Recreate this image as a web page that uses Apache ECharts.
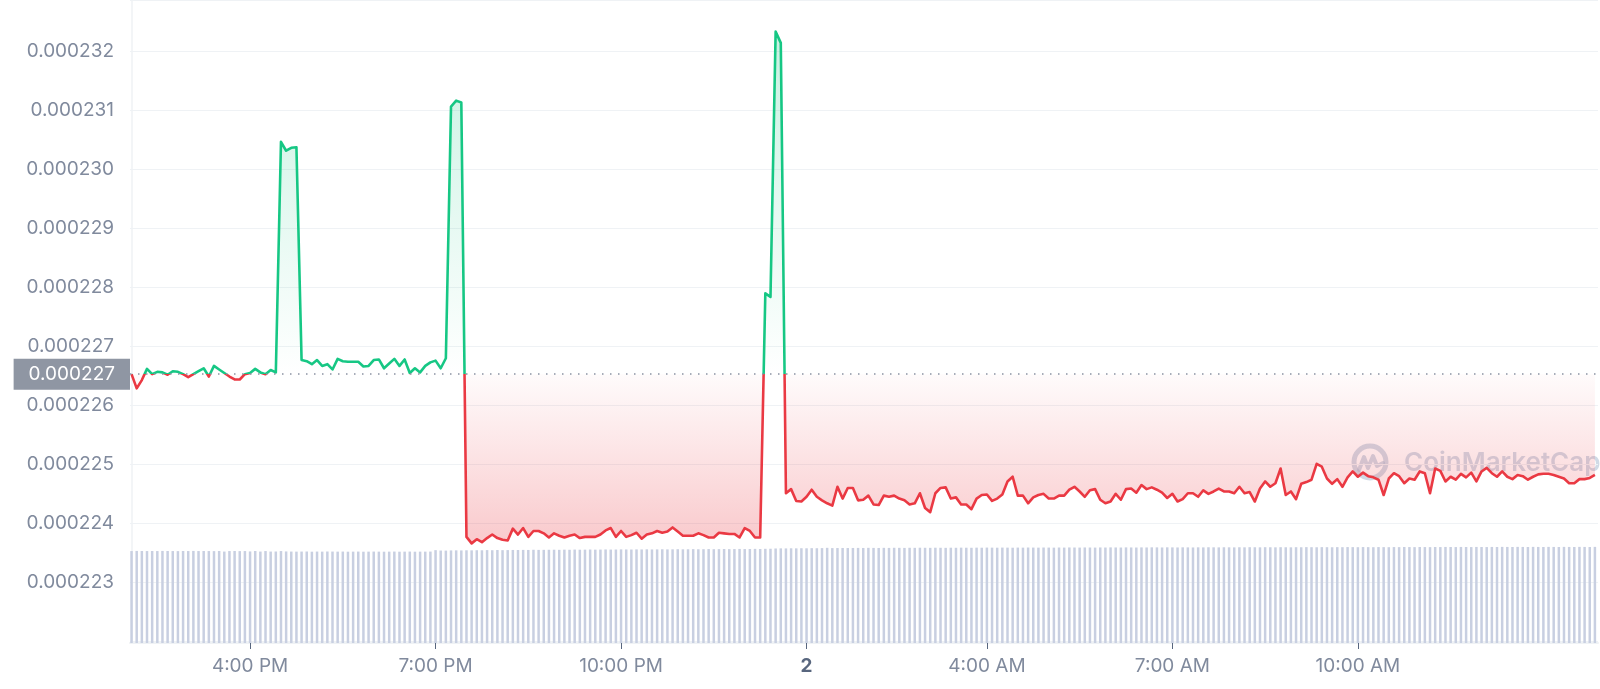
<!DOCTYPE html>
<html>
<head>
<meta charset="utf-8">
<script src="https://cdn.jsdelivr.net/npm/echarts@6/dist/echarts.min.js"></script>
<style>
html,body{margin:0;padding:0;background:#fff;}
#chart{width:1600px;height:689px;}
</style>
</head>
<body>
<div id="chart"></div>
<script>
// Price in units of 1e-6 (one point every ~5 minutes)
const price = [
226.53,226.29,226.43,226.62,226.53,226.57,226.56,226.52,226.58,226.57,226.53,226.48,226.53,226.58,226.63,226.49,226.67,226.61,226.55,226.49,
226.44,226.44,226.53,226.55,226.62,226.56,226.53,226.60,226.56,230.47,230.32,230.37,230.38,226.77,226.75,226.70,226.77,226.67,226.70,226.61,
226.79,226.75,226.74,226.74,226.74,226.66,226.67,226.77,226.78,226.63,226.71,226.79,226.67,226.78,226.55,226.63,226.56,226.67,226.73,226.76,
226.63,226.80,231.07,231.17,231.14,223.77,223.66,223.73,223.68,223.75,223.81,223.75,223.72,223.71,223.91,223.81,223.92,223.77,223.87,223.87,
223.83,223.76,223.83,223.79,223.76,223.79,223.81,223.75,223.77,223.77,223.77,223.81,223.88,223.92,223.77,223.87,223.77,223.80,223.84,223.74,
223.81,223.83,223.87,223.84,223.86,223.93,223.86,223.79,223.79,223.79,223.83,223.80,223.76,223.76,223.84,223.83,223.82,223.82,223.76,223.92,
223.87,223.76,223.76,227.90,227.84,232.34,232.15,224.51,224.58,224.38,224.37,224.45,224.57,224.45,224.39,224.34,224.30,224.62,224.42,224.60,
224.60,224.39,224.40,224.47,224.32,224.31,224.47,224.45,224.47,224.42,224.39,224.32,224.34,224.51,224.26,224.19,224.51,224.60,224.61,224.42,
224.44,224.32,224.32,224.24,224.42,224.48,224.49,224.38,224.42,224.49,224.71,224.79,224.47,224.47,224.34,224.44,224.48,224.50,224.42,224.42,
224.47,224.47,224.57,224.62,224.54,224.45,224.56,224.58,224.40,224.34,224.37,224.50,224.40,224.58,224.59,224.52,224.65,224.58,224.61,224.57,
224.52,224.43,224.50,224.37,224.41,224.51,224.51,224.45,224.56,224.50,224.54,224.59,224.54,224.54,224.51,224.62,224.51,224.53,224.37,224.59,
224.71,224.62,224.68,224.93,224.48,224.54,224.41,224.67,224.70,224.74,225.01,224.96,224.76,224.67,224.75,224.62,224.78,224.88,224.79,224.86,
224.80,224.78,224.74,224.48,224.76,224.85,224.80,224.68,224.76,224.74,224.88,224.85,224.51,224.93,224.89,224.71,224.79,224.74,224.84,224.78,
224.86,224.71,224.88,224.94,224.85,224.79,224.88,224.79,224.75,224.82,224.80,224.74,224.79,224.83,224.84,224.84,224.82,224.79,224.76,224.68,
224.68,224.75,224.75,224.77,224.82
];
// Volume (relative units)
const volume = [
14.30,14.32,14.31,14.30,14.31,14.30,14.32,14.31,14.30,14.29,14.31,14.30,14.32,14.30,14.31,14.30,14.29,14.31,14.22,14.30,
14.31,14.29,14.30,14.24,14.31,14.22,14.30,14.22,14.23,14.30,14.24,14.22,14.21,14.22,14.23,14.20,14.22,14.21,14.23,14.22,
14.21,14.22,14.20,14.21,14.22,14.20,14.21,14.22,14.21,14.20,14.21,14.22,14.20,14.21,14.22,14.20,14.21,14.21,14.22,14.44,
14.38,14.37,14.40,14.41,14.40,14.42,14.41,14.43,14.42,14.45,14.43,14.46,14.44,14.45,14.47,14.46,14.48,14.47,14.50,14.48,
14.49,14.50,14.51,14.49,14.52,14.50,14.53,14.51,14.52,14.54,14.52,14.53,14.55,14.53,14.54,14.56,14.55,14.54,14.56,14.55,
14.57,14.55,14.56,14.58,14.56,14.57,14.59,14.57,14.58,14.60,14.58,14.59,14.61,14.59,14.60,14.62,14.60,14.61,14.63,14.61,
14.62,14.64,14.62,14.65,14.66,14.70,14.72,14.71,14.73,14.72,14.74,14.73,14.75,14.74,14.76,14.80,14.76,14.77,14.78,14.77,
14.78,14.79,14.78,14.80,14.79,14.78,14.80,14.79,14.81,14.80,14.79,14.81,14.80,14.82,14.81,14.80,14.82,14.81,14.80,14.82,
14.81,14.83,14.82,14.81,14.83,14.82,14.84,14.83,14.82,14.84,14.83,14.82,14.84,14.83,14.85,14.84,14.83,14.85,14.84,14.83,
14.85,14.84,14.86,14.85,14.84,14.86,14.85,14.84,14.86,14.85,14.87,14.86,14.85,14.87,14.86,14.85,14.87,14.86,14.88,14.87,
14.86,14.88,14.87,14.86,14.88,14.87,14.86,14.88,14.87,14.89,14.88,14.87,14.89,14.88,14.87,14.89,14.88,14.90,14.89,14.88,
14.90,14.89,14.88,14.90,14.89,14.88,14.90,14.89,14.91,14.90,14.89,14.91,14.90,14.89,14.91,14.90,14.92,14.91,14.90,14.92,
14.91,14.90,14.92,14.91,14.90,14.92,14.91,14.93,14.92,14.91,14.93,14.92,14.91,14.93,14.92,14.94,14.93,14.92,14.94,14.93,
14.92,14.94,14.93,14.92,14.94,14.93,14.95,14.94,14.93,14.95,14.94,14.93,14.95,14.94,14.93,14.95,14.94,14.93,14.95,14.94,
14.93,14.95,14.94,14.93,14.95
];
const openPrice = 226.53;
const tickIndex = [23, 59, 95, 131, 166, 202, 238];
const tickLabels = ['4:00 PM', '7:00 PM', '10:00 PM', '2', '4:00 AM', '7:00 AM', '10:00 AM'];

const GREEN = '#16c784', RED = '#ea3943';
const FONT = 'Inter, "Noto Sans", sans-serif';
const chart = echarts.init(document.getElementById('chart'), null, {renderer: 'canvas'});

function buildOption(refY, bottomY) {
  const f = refY / bottomY;
  const lineGrad = new echarts.graphic.LinearGradient(0, 0, 0, bottomY, [
    {offset: 0, color: GREEN},
    {offset: f, color: GREEN},
    {offset: f, color: RED},
    {offset: 1, color: RED}
  ], true);
  const areaGrad = new echarts.graphic.LinearGradient(0, 0, 0, bottomY, [
    {offset: 0, color: 'rgba(22,199,132,0.26)'},
    {offset: f, color: 'rgba(22,199,132,0.0)'},
    {offset: f, color: 'rgba(234,57,67,0.02)'},
    {offset: Math.min(1, f + 0.25), color: 'rgba(234,57,67,0.26)'},
    {offset: 1, color: 'rgba(234,57,67,0.32)'}
  ], true);
  return {
    animation: false,
    backgroundColor: '#ffffff',
    grid: {left: 130, right: 2, top: 0, bottom: 46, containLabel: false},
    xAxis: {
      type: 'value',
      min: -0.3,
      max: 284.6,
      axisLine: {show: true, lineStyle: {color: '#eff2f5', width: 2}},
      axisTick: {show: true, customValues: tickIndex, length: 6, lineStyle: {color: '#58667e', width: 1}},
      axisLabel: {
        show: true,
        customValues: tickIndex,
        margin: 14,
        fontFamily: FONT,
        fontSize: 19,
        color: '#808a9d',
        formatter: function (v) {
          const i = tickIndex.indexOf(Math.round(v));
          if (i < 0) return '';
          const t = tickLabels[i];
          return /^\d+$/.test(t) ? '{b|' + t + '}' : t;
        },
        rich: {b: {fontFamily: FONT, fontSize: 19, fontWeight: 'bold', color: '#58667e'}}
      },
      splitLine: {show: false}
    },
    yAxis: [{
      type: 'value',
      min: 221.97,
      max: 232.877,
      splitNumber: 10,
      minInterval: 1,
      maxInterval: 1,
      axisLine: {show: true, lineStyle: {color: '#eff2f5', width: 1.5}},
      axisTick: {show: false},
      axisLabel: {
        showMinLabel: false,
        showMaxLabel: false,
        margin: 16,
        fontFamily: FONT,
        fontSize: 19,
        color: '#808a9d',
        formatter: function (v) {
          if (v < 222.5) return '';
          return (v / 1e6).toFixed(6);
        }
      },
      splitLine: {show: true, lineStyle: {color: '#eff2f5', width: 1}}
    }, {
      type: 'value',
      min: 0,
      max: 100,
      show: false,
      splitLine: {show: false}
    }],
    graphic: [{
      type: 'group',
      z: 1,
      silent: true,
      children: [{
        type: 'circle',
        shape: {cx: 1370, cy: 462, r: 16},
        style: {fill: 'none', stroke: 'rgba(170,188,210,0.55)', lineWidth: 5}
      }, {
        type: 'polyline',
        shape: {points: [[1359, 470], [1364, 457], [1368, 468], [1373, 456], [1377, 466], [1383, 463]]},
        style: {fill: 'none', stroke: 'rgba(170,188,210,0.55)', lineWidth: 4, lineJoin: 'round', lineCap: 'round'}
      }, {
        type: 'text',
        style: {
          x: 1404, y: 463, text: 'CoinMarketCap',
          font: '600 26px ' + FONT,
          fill: 'rgba(170,188,210,0.55)',
          verticalAlign: 'middle', align: 'left'
        }
      }]
    }],
    series: [{
      type: 'line',
      name: 'Price',
      data: price.map((v, i) => [i, v]),
      yAxisIndex: 0,
      showSymbol: false,
      symbol: 'none',
      z: 3,
      lineStyle: {width: 2.6, color: lineGrad, join: 'round'},
      areaStyle: {origin: openPrice, color: areaGrad, opacity: 1},
      markLine: {
        silent: true,
        symbol: 'none',
        lineStyle: {type: [1.5, 6.5], color: '#8b93a3', width: 1.5},
        label: {
          show: true,
          position: 'start',
          distance: 0,
          formatter: function (p) { return (p.value / 1e6).toFixed(6); },
          backgroundColor: '#8f96a3',
          color: '#ffffff',
          fontFamily: FONT,
          fontSize: 19,
          padding: [6, 15, 6, 15],
          borderRadius: 0
        },
        data: [{yAxis: openPrice}]
      }
    }, {
      type: 'bar',
      name: 'Volume',
      data: volume.map((v, i) => [i, v]),
      yAxisIndex: 1,
      barWidth: 2.5,
      z: 1,
      itemStyle: {color: '#c8cfe1'}
    }]
  };
}

chart.setOption(buildOption(374, 643));
// refine gradient split positions using the chart's own scale
const refPix = chart.convertToPixel({xAxisIndex: 0, yAxisIndex: 0}, [0, openPrice]);
const botPix = chart.convertToPixel({xAxisIndex: 0, yAxisIndex: 0}, [0, 221.97]);
if (refPix && botPix) {
  chart.setOption(buildOption(refPix[1], botPix[1]), true);
}
</script>
</body>
</html>
